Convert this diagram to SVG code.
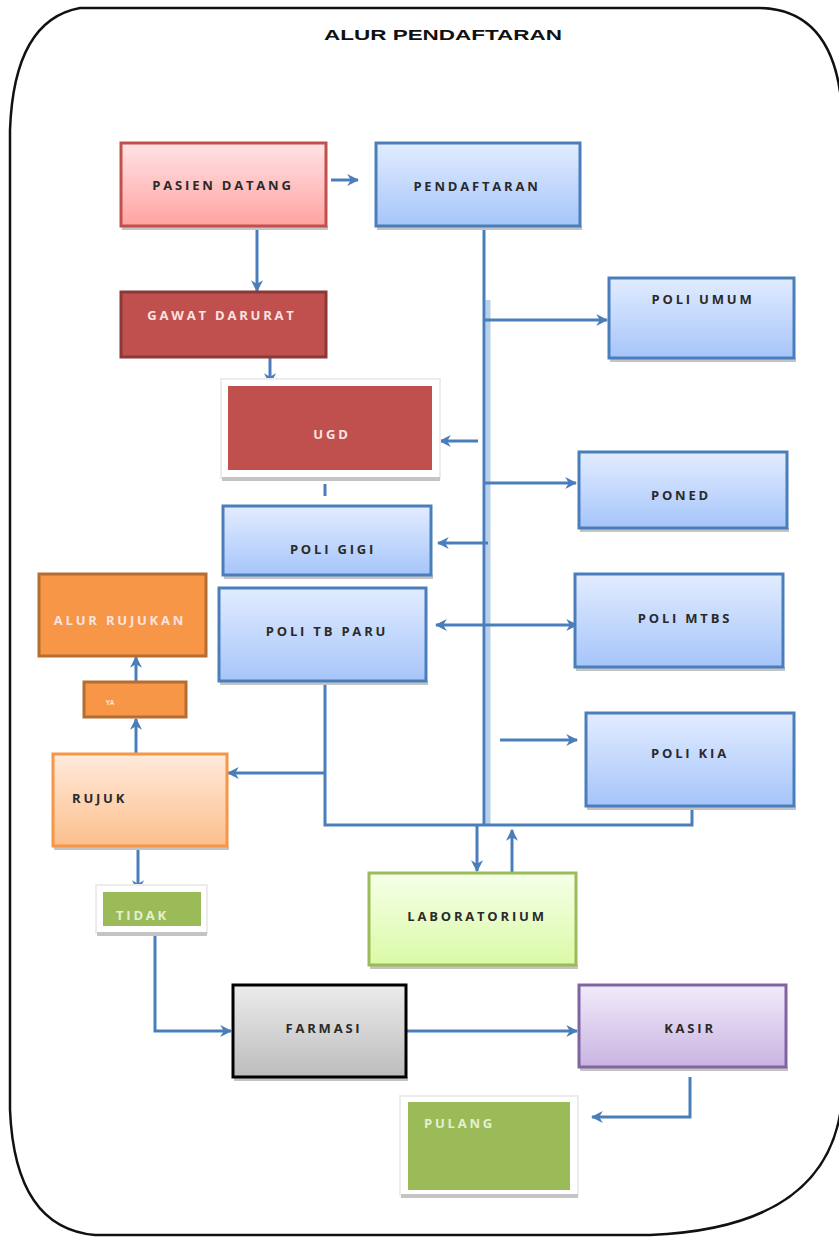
<svg xmlns="http://www.w3.org/2000/svg" width="839" height="1237" viewBox="0 0 839 1237">
<defs>
<style>
.t{font-family:"Open Sans","Liberation Sans",sans-serif;font-weight:bold;font-size:13px;letter-spacing:2.8px;fill:#2a2a2a}
.w{fill:#fbe3e0}
.c{stroke:#4a7ebb;stroke-width:3;fill:none}
.ca{stroke:#4a7ebb;stroke-width:3;fill:none;marker-end:url(#ah)}
.sh{fill:#c4c4c4}
.blue{fill:url(#gBlue);stroke:#4a7ebb;stroke-width:3}
.frame{fill:#fff;stroke:#ececec;stroke-width:2}
</style>
<linearGradient id="gBlue" x1="0" y1="0" x2="0" y2="1"><stop offset="0" stop-color="#e2ecff"/><stop offset="1" stop-color="#a6c5fa"/></linearGradient>
<linearGradient id="gPink" x1="0" y1="0" x2="0" y2="1"><stop offset="0" stop-color="#ffe3e4"/><stop offset="1" stop-color="#ffa3a2"/></linearGradient>
<linearGradient id="gPeach" x1="0" y1="0" x2="0" y2="1"><stop offset="0" stop-color="#ffeadb"/><stop offset="1" stop-color="#fcbf8c"/></linearGradient>
<linearGradient id="gLime" x1="0" y1="0" x2="0" y2="1"><stop offset="0" stop-color="#f6ffe9"/><stop offset="1" stop-color="#dafaa6"/></linearGradient>
<linearGradient id="gGrey" x1="0" y1="0" x2="0" y2="1"><stop offset="0" stop-color="#ececec"/><stop offset="1" stop-color="#bcbcbc"/></linearGradient>
<linearGradient id="gPurple" x1="0" y1="0" x2="0" y2="1"><stop offset="0" stop-color="#f1ebfa"/><stop offset="1" stop-color="#c9b4e2"/></linearGradient>
<marker id="ah" viewBox="0 0 10 10" refX="9" refY="5" markerWidth="4" markerHeight="4" orient="auto" markerUnits="strokeWidth">
<path d="M0,0 L10,5 L0,10 L3,5 Z" fill="#4a7ebb"/>
</marker>
</defs>
<rect width="839" height="1237" fill="#fff"/>
<path d="M80,8 L760,8 Q835,10 842,110 L842,1100 Q830,1228 650,1235 L95,1235 Q15,1228 10,1110 L10,130 Q14,20 80,8 Z" fill="none" stroke="#111" stroke-width="2.5"/>
<text x="443" y="40" text-anchor="middle" font-family="'Liberation Sans Narrow','Liberation Sans',sans-serif" font-size="15" font-weight="bold" fill="#111" textLength="238" lengthAdjust="spacingAndGlyphs">ALUR PENDAFTARAN</text>

<g id="connectors">
<line x1="488" y1="300" x2="488" y2="826" stroke="#b9cfea" stroke-width="5"/>
<line class="c" x1="484" y1="230" x2="484" y2="826"/>
<line class="ca" x1="331" y1="180" x2="358" y2="180"/>
<line class="ca" x1="257" y1="226" x2="257" y2="291"/>
<line class="ca" x1="270" y1="357" x2="270" y2="384"/>
<line class="c" x1="325" y1="484" x2="325" y2="496"/>
<line class="ca" x1="484" y1="320" x2="607" y2="320"/>
<line class="ca" x1="478" y1="441" x2="440" y2="441"/>
<line class="ca" x1="484" y1="483" x2="576" y2="483"/>
<line class="ca" x1="488" y1="543" x2="438" y2="543"/>
<line class="ca" x1="480" y1="625" x2="436" y2="625"/>
<line class="ca" x1="480" y1="625" x2="577" y2="625"/>
<line class="ca" x1="500" y1="740" x2="577" y2="740"/>
<polyline class="c" points="325,681 325,825 692,825 692,806"/>
<line class="ca" x1="325" y1="773" x2="228" y2="773"/>
<line class="ca" x1="477" y1="825" x2="477" y2="871"/>
<line class="ca" x1="512" y1="873" x2="512" y2="830"/>
<line class="ca" x1="136" y1="753" x2="136" y2="719"/>
<line class="ca" x1="136" y1="681" x2="136" y2="657"/>
<line class="ca" x1="138" y1="846" x2="138" y2="891"/>
<polyline class="ca" points="155,933 155,1031 231,1031"/>
<line class="ca" x1="406" y1="1031" x2="577" y2="1031"/>
<polyline class="ca" points="690,1077 690,1117 592,1117"/>
</g>

<g id="pasien-datang">
<rect class="sh" x="122" y="226" width="206" height="4"/>
<rect x="121" y="143" width="205" height="83" fill="url(#gPink)" stroke="#c0504d" stroke-width="3"/>
<text class="t" x="223" y="190" text-anchor="middle">PASIEN DATANG</text>
</g>
<g id="pendaftaran">
<rect class="sh" x="377" y="226" width="205" height="4"/>
<rect class="blue" x="376" y="143" width="204" height="83"/>
<text class="t" x="477" y="191" text-anchor="middle">PENDAFTARAN</text>
</g>
<g id="gawat-darurat">
<rect x="121" y="292" width="205" height="65" fill="#c0504d" stroke="#8c3836" stroke-width="3"/>
<text class="t w" x="222" y="320" text-anchor="middle">GAWAT DARURAT</text>
</g>
<g id="ugd">
<rect class="frame" x="221" y="379" width="219" height="99"/>
<rect class="sh" x="222" y="477" width="218" height="4"/>
<rect x="228" y="386" width="204" height="84" fill="#c0504d"/>
<text class="t w" x="332" y="439" text-anchor="middle">UGD</text>
</g>
<g id="poli-gigi">
<rect class="sh" x="224" y="575" width="209" height="4"/>
<rect class="blue" x="223" y="506" width="208" height="69"/>
<text class="t" x="333" y="554" text-anchor="middle">POLI GIGI</text>
</g>
<g id="poli-tb-paru">
<rect class="sh" x="220" y="681" width="208" height="4"/>
<rect class="blue" x="219" y="588" width="207" height="93"/>
<text class="t" x="327" y="636" text-anchor="middle">POLI TB PARU</text>
</g>
<g id="alur-rujukan">
<rect x="39" y="574" width="167" height="82" fill="#f79646" stroke="#b66d31" stroke-width="3"/>
<text class="t w" x="120" y="625" text-anchor="middle">ALUR RUJUKAN</text>
</g>
<g id="ya">
<rect x="84" y="682" width="102" height="35" fill="#f79646" stroke="#b66d31" stroke-width="3"/>
<text x="110" y="705" text-anchor="middle" font-family="'Liberation Sans',sans-serif" font-size="7" font-weight="bold" fill="#fde3d0">YA</text>
</g>
<g id="rujuk">
<rect class="sh" x="54" y="846" width="175" height="4"/>
<rect x="53" y="754" width="174" height="92" fill="url(#gPeach)" stroke="#f79646" stroke-width="3"/>
<text class="t" x="72" y="803">RUJUK</text>
</g>
<g id="tidak">
<rect class="frame" x="96" y="885" width="111" height="48"/>
<rect class="sh" x="97" y="932" width="110" height="4"/>
<rect x="103" y="892" width="98" height="34" fill="#9bbb59"/>
<text class="t" x="116" y="920" style="fill:#e4f0cf">TIDAK</text>
</g>
<g id="laboratorium">
<rect class="sh" x="370" y="965" width="208" height="4"/>
<rect x="369" y="873" width="207" height="92" fill="url(#gLime)" stroke="#9bbb59" stroke-width="3"/>
<text class="t" x="477" y="921" text-anchor="middle">LABORATORIUM</text>
</g>
<g id="farmasi">
<rect class="sh" x="234" y="1077" width="174" height="4"/>
<rect x="233" y="985" width="173" height="92" fill="url(#gGrey)" stroke="#000" stroke-width="3"/>
<text class="t" x="324" y="1033" text-anchor="middle">FARMASI</text>
</g>
<g id="kasir">
<rect class="sh" x="580" y="1067" width="208" height="4"/>
<rect x="579" y="985" width="207" height="82" fill="url(#gPurple)" stroke="#8064a2" stroke-width="3"/>
<text class="t" x="690" y="1033" text-anchor="middle">KASIR</text>
</g>
<g id="pulang">
<rect class="frame" x="400" y="1096" width="178" height="99"/>
<rect class="sh" x="401" y="1194" width="177" height="4"/>
<rect x="408" y="1102" width="162" height="88" fill="#9bbb59"/>
<text class="t" x="424" y="1128" style="fill:#e4f0cf">PULANG</text>
</g>
<g id="poli-umum">
<rect class="sh" x="610" y="358" width="186" height="4"/>
<rect class="blue" x="609" y="278" width="185" height="80"/>
<text class="t" x="703" y="304" text-anchor="middle">POLI UMUM</text>
</g>
<g id="poned">
<rect class="sh" x="580" y="528" width="209" height="4"/>
<rect class="blue" x="579" y="452" width="208" height="76"/>
<text class="t" x="681" y="500" text-anchor="middle">PONED</text>
</g>
<g id="poli-mtbs">
<rect class="sh" x="576" y="667" width="209" height="4"/>
<rect class="blue" x="575" y="574" width="208" height="93"/>
<text class="t" x="685" y="623" text-anchor="middle">POLI MTBS</text>
</g>
<g id="poli-kia">
<rect class="sh" x="587" y="806" width="209" height="4"/>
<rect class="blue" x="586" y="713" width="208" height="93"/>
<text class="t" x="690" y="758" text-anchor="middle">POLI KIA</text>
</g>
</svg>
